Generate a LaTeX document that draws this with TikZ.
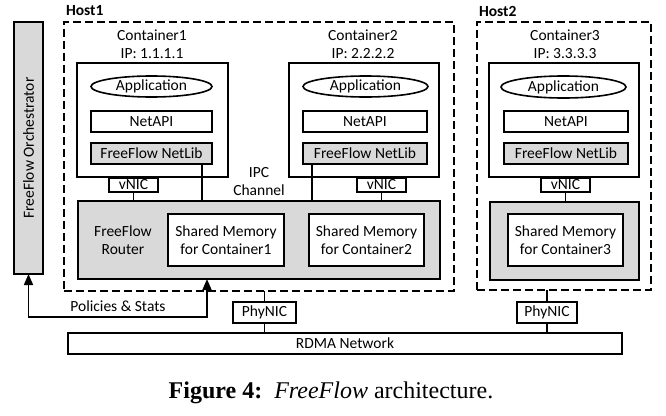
\documentclass[tikz,border=0pt]{standalone}
\usepackage{fontspec}
\setmainfont{Carlito}
\newfontfamily\capfont{Liberation Serif}
\usetikzlibrary{arrows.meta,shapes.geometric}
\begin{document}
\begin{tikzpicture}[x=1pt,y=-1pt,
  every node/.style={inner sep=0pt,outer sep=0pt,font=\fontsize{15.5}{18}\selectfont},
  bx/.style={draw,line width=1.6pt,minimum width=#1},
  gbx/.style={bx=#1,fill=black!15},
  lay/.style={bx=#1,minimum height=21pt},
  glay/.style={lay=#1,fill=black!15},
  nic/.style={bx=49pt,minimum height=14pt},
  host/.style={draw,line width=1.6pt,dash pattern=on 8pt off 4pt},
  ln/.style={line width=1.6pt},
  lbl/.style={align=center}]
\useasboundingbox (0,0) rectangle (666,415);
% orchestrator
\node[gbx=252pt,minimum height=29pt,rotate=90] (orch) at (28.5,148) {FreeFlow Orchestrator};
% hosts
\node[host,minimum width=390pt,minimum height=269pt] (host1) at (259,156.5) {};
\node[host,minimum width=174pt,minimum height=268pt] (host2) at (564,156) {};
\node[anchor=west,font=\fontsize{15.5}{18}\selectfont\bfseries] (h1l) at (66,11) {Host1};
\node[anchor=west,font=\fontsize{15.5}{18}\selectfont\bfseries] (h2l) at (479,11) {Host2};
% container 1
\node[lbl] (c1l) at (152,44) {Container1\\IP: 1.1.1.1};
\node[bx=151pt,minimum height=114pt] (c1) at (152.5,120) {};
\node[draw,ellipse,line width=1.6pt,minimum width=121pt,minimum height=21pt] (app1) at (151.5,86.5) {Application};
\node[lay=121pt] (api1) at (151.5,121.5) {NetAPI};
\node[glay=121pt] (lib1) at (151.5,153.5) {FreeFlow NetLib};
\node[nic] (vnic1) at (133.5,185) {vNIC};
% container 2
\node[lbl] (c2l) at (363,44) {Container2\\IP: 2.2.2.2};
\node[bx=150pt,minimum height=114pt] (c2) at (364,120) {};
\node[draw,ellipse,line width=1.6pt,minimum width=125pt,minimum height=21pt] (app2) at (365.5,86.5) {Application};
\node[lay=124pt] (api2) at (365,121.5) {NetAPI};
\node[glay=124pt] (lib2) at (365,153.5) {FreeFlow NetLib};
\node[nic] (vnic2) at (381.5,185) {vNIC};
% container 3
\node[lbl] (c3l) at (565,44) {Container3\\IP: 3.3.3.3};
\node[bx=150pt,minimum height=114pt] (c3) at (564,120) {};
\node[draw,ellipse,line width=1.6pt,minimum width=125pt,minimum height=22pt] (app3) at (563.5,87) {Application};
\node[lay=124pt] (api3) at (566,121.5) {NetAPI};
\node[glay=124pt] (lib3) at (566,153.5) {FreeFlow NetLib};
\node[nic] (vnic3) at (565.5,185) {vNIC};
% routers
\node[gbx=362pt,minimum height=78pt] (r1) at (259,240) {};
\node[lbl] (r1l) at (123,240) {FreeFlow\\Router};
\node[bx=116pt,minimum height=52pt,fill=white,lbl] (sm1) at (226,240) {Shared Memory\\for Container1};
\node[bx=115pt,minimum height=52pt,fill=white,lbl] (sm2) at (366.5,240) {Shared Memory\\for Container2};
\node[lbl] (ipc) at (259,181.5) {IPC\\Channel};
\node[gbx=149pt,minimum height=78pt] (r2) at (564.5,241) {};
\node[bx=115pt,minimum height=52pt,fill=white,lbl] (sm3) at (565.5,240) {Shared Memory\\for Container3};
% phy nics and network
\node[bx=63pt,minimum height=21pt] (pn1) at (264.5,312.5) {PhyNIC};
\node[bx=60pt,minimum height=21pt] (pn2) at (547,312.5) {PhyNIC};
\node[bx=554pt,minimum height=21pt] (rdma) at (345,343.5) {RDMA Network};
% connectors
\draw[ln] (vnic1.south) -- (vnic1.south |- r1.north);
\draw[ln] ([xshift=-10pt]lib1.south east) -- ([xshift=-10pt]lib1.south east |- r1.north);
\draw[ln] ([xshift=9pt]lib2.south west) -- ([xshift=9pt]lib2.south west |- r1.north);
\draw[ln] (vnic2.south) -- (vnic2.south |- r1.north);
\draw[ln] (vnic3.south) -- (vnic3.south |- r2.north);
\draw[ln] (pn1.north) -- (pn1.north |- host1.south);
\draw[ln] (pn1.south) -- (pn1.south |- rdma.north);
\draw[ln] (pn2.north) -- (pn2.north |- host2.south);
\draw[ln] (pn2.south) -- (pn2.south |- rdma.north);
\draw[ln,{Triangle[width=9pt,length=11pt]}-{Triangle[width=9pt,length=11pt]}] (orch.west) -- ++(0,43) coordinate (turn) -| ([xshift=129pt]r1.south west);
\node (pol) at (118,306) {Policies \& Stats};
% caption
\node[font=\capfont\fontsize{24}{28}\selectfont] (cap) at (331,393) {\textbf{Figure 4:}\ \ \textit{FreeFlow} architecture.};
\end{tikzpicture}
\end{document}
